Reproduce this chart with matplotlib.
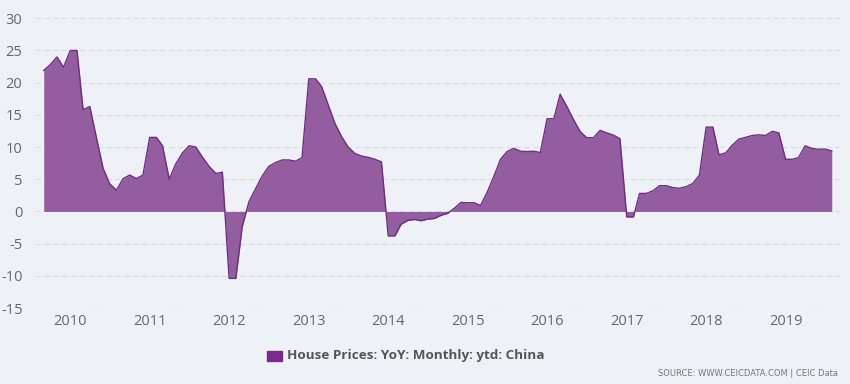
import matplotlib
matplotlib.use("Agg")
import matplotlib.pyplot as plt
import matplotlib.dates as mdates
import pandas as pd
import numpy as np

# ---- data (monthly, Sep 2009 .. Aug 2019) ----
start_month = "2009-09-01"
values = [
    21.9, 22.8, 24.0, 22.4,                                   # 2009 Sep-Dec
    25.0, 25.0, 15.8, 16.3, 11.5, 6.7, 4.3, 3.3, 5.1, 5.65, 5.1, 5.65,   # 2010
    11.5, 11.5, 10.2, 5.0, 7.4, 9.1, 10.2, 10.0, 8.4, 7.0, 5.9, 6.1,     # 2011
    -10.4, -10.4, -2.4, 1.5, 3.5, 5.5, 7.0, 7.6, 8.0, 8.0, 7.8, 8.35,    # 2012
    20.6, 20.6, 19.4, 16.5, 13.7, 11.6, 10.0, 9.0, 8.6, 8.4, 8.1, 7.7,   # 2013
    -3.8, -3.8, -2.0, -1.4, -1.25, -1.45, -1.2, -1.1, -0.6, -0.3, 0.5, 1.4,  # 2014
    1.35, 1.35, 0.9, 3.0, 5.4, 8.1, 9.3, 9.8, 9.35, 9.3, 9.35, 9.15,     # 2015
    14.4, 14.4, 18.2, 16.3, 14.3, 12.4, 11.45, 11.45, 12.6, 12.2, 11.85, 11.3,  # 2016
    -0.85, -0.85, 2.8, 2.8, 3.2, 4.0, 4.0, 3.7, 3.6, 3.85, 4.35, 5.65,   # 2017
    13.1, 13.1, 8.8, 9.1, 10.3, 11.25, 11.5, 11.8, 11.9, 11.8, 12.45, 12.2,  # 2018
    8.1, 8.1, 8.35, 10.2, 9.8, 9.65, 9.7, 9.4,                            # 2019 Jan-Aug
]
year_ticks = [2010, 2011, 2012, 2013, 2014, 2015, 2016, 2017, 2018, 2019]
y_ticks = [-15, -10, -5, 0, 5, 10, 15, 20, 25, 30]
series_name = "House Prices: YoY: Monthly: ytd: China"
source_text = "SOURCE: WWW.CEICDATA.COM | CEIC Data"

dates = pd.date_range(start_month, periods=len(values), freq="MS")
vals = np.array(values)

BG = "#eef2f7"
FILL = "#935d9f"
LINE = "#6b2f80"
LEG = "#7a2a8c"
TXT = "#666666"

plt.rcParams["font.family"] = ["Open Sans", "DejaVu Sans"]

fig = plt.figure(figsize=(8.5, 3.84), dpi=100, facecolor=BG)
ax = fig.add_axes([35 / 850, (384 - 308) / 384, (840 - 35) / 850, (308 - 18.3) / 384])
ax.set_facecolor(BG)

ax.fill_between(dates, vals, 0, color=FILL, linewidth=0, zorder=2)
ax.plot(dates, vals, color=LINE, linewidth=1.0, zorder=3)

ax.set_ylim(-15, 30)
ax.set_yticks(y_ticks)
ax.set_yticklabels([str(v) for v in y_ticks])
x_left = pd.Timestamp("2010-01-01") - pd.Timedelta(days=162)
x_right = pd.Timestamp("2019-01-01") + pd.Timedelta(days=250)
ax.set_xlim(x_left, x_right)
ax.set_xticks([pd.Timestamp(f"{y}-01-01") for y in year_ticks])
ax.set_xticklabels([str(y) for y in year_ticks])

ax.grid(axis="y", color="#d8dde5", linestyle=(0, (5, 3)), linewidth=0.8, zorder=1)
ax.grid(axis="x", visible=False)
for s in ax.spines.values():
    s.set_visible(False)
ax.tick_params(axis="both", length=0, colors=TXT, labelsize=10.5)
ax.tick_params(axis="y", pad=9)
ax.tick_params(axis="x", pad=4)

# legend
fig.patches.append(plt.Rectangle((267 / 850, 1 - 361 / 384), 15 / 850, 10 / 384,
                                 transform=fig.transFigure, color=LEG))
fig.text(287 / 850, 1 - 356 / 384, series_name, fontsize=9.7, fontweight="bold",
         color="#555555", va="center", ha="left")
fig.text(838 / 850, 1 - 373 / 384, source_text, fontsize=6.0, color="#777777",
         va="center", ha="right", family=["Liberation Sans Narrow", "DejaVu Sans"])

fig.savefig("out.png", dpi=100, facecolor=BG)
